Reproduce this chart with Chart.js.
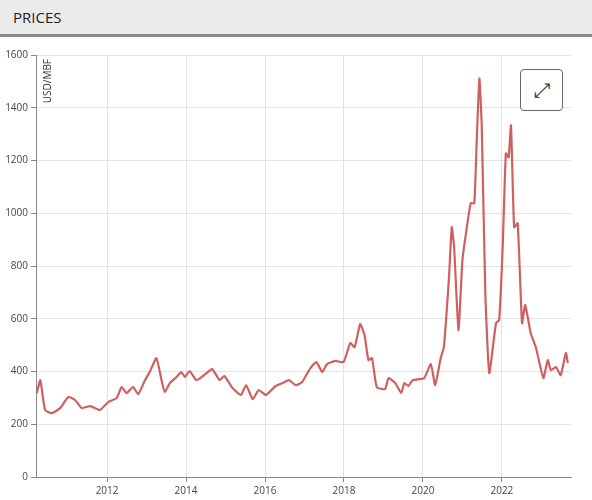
<!DOCTYPE html>
<html><head><meta charset="utf-8">
<script src="https://cdn.jsdelivr.net/npm/chart.js@4"></script>
<style>
body{margin:0;background:#fff;font-family:"Open Sans",sans-serif;}
#hdr{height:34px;background:#ebebeb;border-bottom:3px solid #8a8a8a;box-sizing:content-box;}
#hdr span{position:absolute;left:13px;top:7px;font-size:15px;color:#222;}
#wrap{position:absolute;left:0;top:37px;width:592px;height:463px;}
#btn{position:absolute;left:520px;top:69px;width:41px;height:40px;border:1px solid #666;border-radius:4px;background:#fff;font-size:20px;text-align:center;line-height:40px;color:#333;}
</style></head><body>
<div id="hdr"><span>PRICES</span></div>
<div id="wrap"><canvas id="c" width="592" height="463"></canvas></div>
<div id="btn">&#10530;</div>
<script>
const years = [2010.22,2010.31,2010.43,2010.6,2010.81,2011.02,2011.19,2011.36,2011.57,2011.82,2012.03,2012.24,2012.37,2012.49,2012.66,2012.79,2012.96,2013.08,2013.25,2013.38,2013.46,2013.59,2013.76,2013.88,2013.97,2014.09,2014.26,2014.43,2014.66,2014.85,2014.97,2015.18,2015.39,2015.52,2015.69,2015.84,2016.02,2016.27,2016.44,2016.61,2016.78,2016.94,2017.15,2017.3,2017.45,2017.57,2017.78,2017.99,2018.16,2018.27,2018.41,2018.52,2018.62,2018.71,2018.83,2019.04,2019.13,2019.3,2019.45,2019.53,2019.63,2019.74,2020.03,2020.2,2020.31,2020.45,2020.53,2020.66,2020.73,2020.79,2020.9,2021.0,2021.09,2021.21,2021.3,2021.36,2021.43,2021.49,2021.58,2021.68,2021.85,2021.93,2022.02,2022.1,2022.17,2022.23,2022.31,2022.4,2022.51,2022.59,2022.73,2022.86,2023.05,2023.16,2023.24,2023.37,2023.49,2023.62,2023.67];
const prices = [318,367,254,242,261,303,292,261,269,254,284,299,341,318,341,314,367,398,451,367,322,356,379,398,379,402,367,383,409,367,383,337,311,348,295,330,311,345,356,367,348,360,413,436,398,428,440,436,508,492,580,538,443,451,341,333,375,356,318,356,345,367,375,428,348,451,492,758,947,871,557,822,924,1038,1038,1265,1511,1326,697,394,583,595,871,1227,1212,1333,947,962,583,652,545,492,375,443,405,417,386,470,432];
const yTicks = [0,200,400,600,800,1000,1200,1400,1600];
const xTicks = [2012,2014,2016,2018,2020,2022];

const unitLabel = {
  id:'unitLabel',
  afterDraw(ch){
    const c = ch.ctx, a = ch.chartArea;
    c.save();
    c.translate(a.left+12, a.top+4);
    c.rotate(-Math.PI/2);
    c.font='10px "Open Sans"'; c.fillStyle='#333'; c.textAlign='right'; c.textBaseline='middle';
    c.fillText('USD/MBF',0,0);
    c.restore();
  }
};

new Chart(document.getElementById('c'), {
  type:'line',
  data:{datasets:[{data:years.map((x,i)=>({x:x,y:prices[i]})),borderColor:'#d06060',borderWidth:2.2,pointRadius:0,tension:0.15,fill:false}]},
  options:{
    animation:false,responsive:false,
    layout:{padding:{top:18,right:21,bottom:0,left:0}},
    plugins:{legend:{display:false},tooltip:{enabled:false}},
    scales:{
      x:{type:'linear',min:2010.2,max:2023.75,
        afterBuildTicks(s){s.ticks=xTicks.map(v=>({value:v}));},
        ticks:{color:'#444',font:{size:10,family:'"Open Sans"'},callback:v=>String(v),maxRotation:0},
        grid:{color:'#e3e3e3',tickLength:5,tickColor:'#888'},border:{color:'#888'}},
      y:{min:0,max:1600,
        afterBuildTicks(s){s.ticks=yTicks.map(v=>({value:v}));},
        afterFit(s){s.width=36;},
        ticks:{color:'#444',font:{size:10,family:'"Open Sans"'},padding:3,callback:v=>String(v)},
        grid:{color:'#e3e3e3',tickLength:5,tickColor:'#888'},border:{color:'#888'}}
    }
  },
  plugins:[unitLabel]
});
</script>
</body></html>
